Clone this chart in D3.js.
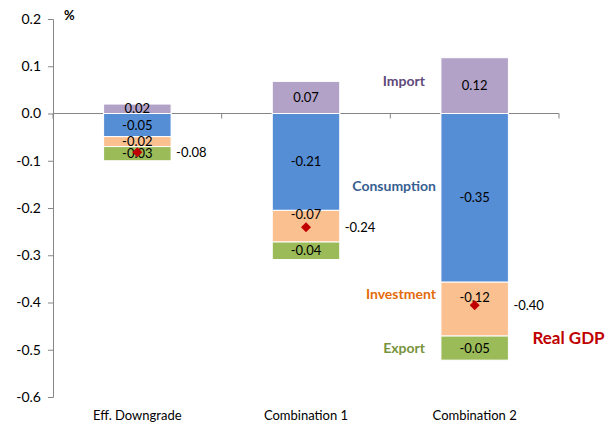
<!DOCTYPE html>
<html>
<head>
<meta charset="utf-8">
<script src="https://cdn.jsdelivr.net/npm/d3@7"></script>
<style>
  body { margin: 0; background: #fff; }
  svg text { font-family: Lato, "Open Sans", sans-serif; }
</style>
</head>
<body>
<div id="chart"></div>
<script>
const categories = ["Eff. Downgrade", "Combination 1", "Combination 2"];
const seriesNames = ["Import", "Consumption", "Investment", "Export"];
const importVals = [0.02, 0.068, 0.118];
const consumptionVals = [-0.049, -0.205, -0.357];
const investmentVals = [-0.021, -0.067, -0.114];
const exportVals = [-0.03, -0.037, -0.051];
const importLabels = ["0.02", "0.07", "0.12"];
const consumptionLabels = ["-0.05", "-0.21", "-0.35"];
const investmentLabels = ["-0.02", "-0.07", "-0.12"];
const exportLabels = ["-0.03", "-0.04", "-0.05"];
const gdpVals = [-0.082, -0.241, -0.406];
const gdpLabels = ["-0.08", "-0.24", "-0.40"];
const yTicks = [0.2, 0.1, 0.0, -0.1, -0.2, -0.3, -0.4, -0.5, -0.6];

const W = 607, H = 425;
const margin = {top: 19, right: 48, bottom: 28, left: 53};

const colors = {
  Import: "#b3a2c7", Consumption: "#558ed5",
  Investment: "#fac090", Export: "#9bbb59"
};
const textColors = {
  Import: "#5f497a", Consumption: "#376092",
  Investment: "#e46c0a", Export: "#77933c"
};

const rows = categories.map((c, i) => ({
  cat: c,
  Import: importVals[i], Consumption: consumptionVals[i],
  Investment: investmentVals[i], Export: exportVals[i]
}));
const labelsBy = {
  Import: importLabels, Consumption: consumptionLabels,
  Investment: investmentLabels, Export: exportLabels
};

const svg = d3.select("#chart").append("svg")
  .attr("width", W).attr("height", H);

const x = d3.scaleBand()
  .domain(categories)
  .range([margin.left, W - margin.right])
  .paddingInner(0.6).paddingOuter(0.3);

const y = d3.scaleLinear()
  .domain([-0.6, 0.2])
  .range([H - margin.bottom, margin.top]);

// y axis (plain hyphen for negatives, like the original)
const fmt = d3.format(".1f");
const yAxis = svg.append("g")
  .attr("transform", "translate(" + margin.left + ",0)")
  .call(d3.axisLeft(y).tickValues(yTicks).tickSize(5).tickPadding(7)
    .tickFormat(d => fmt(d).replace("\u2212", "-")));
yAxis.selectAll("path, line").attr("stroke", "#868686");
yAxis.selectAll("text").attr("font-size", 14).attr("fill", "#000")
  .attr("font-family", "Lato, sans-serif");

// zero line with category ticks
const step = x.step();
svg.append("line")
  .attr("x1", margin.left).attr("x2", W - margin.right)
  .attr("y1", y(0)).attr("y2", y(0))
  .attr("stroke", "#868686");
svg.append("g").selectAll("line")
  .data(d3.range(categories.length + 1)).enter().append("line")
  .attr("x1", i => margin.left + i * step).attr("x2", i => margin.left + i * step)
  .attr("y1", y(0)).attr("y2", y(0) + 5)
  .attr("stroke", "#868686");

// stacked bars
const stack = d3.stack().keys(seriesNames).offset(d3.stackOffsetDiverging);
const stacked = stack(rows);

const groups = svg.append("g").selectAll("g")
  .data(stacked).enter().append("g")
  .attr("fill", d => colors[d.key]);

groups.selectAll("rect")
  .data(d => d.map(p => Object.assign(p, {key: d.key}))).enter().append("rect")
  .attr("x", d => x(d.data.cat))
  .attr("width", x.bandwidth())
  .attr("y", d => y(d[1]))
  .attr("height", d => y(d[0]) - y(d[1]))
  .attr("stroke", "#fff")
  .attr("stroke-width", 1);

// value labels
stacked.forEach(s => {
  s.forEach((p, i) => {
    const top = y(p[1]), bot = y(p[0]);
    let cy = (top + bot) / 2;
    const gy = y(gdpVals[i]);
    if (bot - top > 25 && gy > top && gy < bot) cy -= 12;
    svg.append("text")
      .attr("x", x(p.data.cat) + x.bandwidth() / 2)
      .attr("y", cy)
      .attr("dy", "0.35em")
      .attr("text-anchor", "middle")
      .attr("font-size", 13)
      .attr("fill", "#000")
      .text(labelsBy[s.key][i]);
  });
});

// real GDP diamonds
svg.append("g").selectAll("path")
  .data(gdpVals).enter().append("path")
  .attr("d", d3.symbol(d3.symbolSquare, 50))
  .attr("transform", (d, i) => "translate(" + (x(categories[i]) + x.bandwidth() / 2) + "," + y(d) + ") rotate(45)")
  .attr("fill", "#c00000");

svg.append("g").selectAll("text")
  .data(gdpVals).enter().append("text")
  .attr("x", (d, i) => x(categories[i]) + x.bandwidth() + 5)
  .attr("y", d => y(d))
  .attr("dy", "0.35em")
  .attr("font-size", 13)
  .text((d, i) => gdpLabels[i]);

// category labels
svg.append("g").selectAll("text")
  .data(categories).enter().append("text")
  .attr("x", d => x(d) + x.bandwidth() / 2)
  .attr("y", 420)
  .attr("text-anchor", "middle")
  .attr("font-size", 13)
  .text(d => d);

// series name labels next to last bar
const lastCat = categories[categories.length - 1];
const lastStack = stacked.map(s => ({key: s.key, p: s[s.length - 1]}));
const labelX = x(lastCat) - 4;
lastStack.forEach(s => {
  let cy = (y(s.p[0]) + y(s.p[1])) / 2;
  if (s.key === "Import") cy = y(s.p[1]) + 23;
  if (s.key === "Consumption") cy = y(-0.2) - 22;
  if (s.key === "Investment") cy = y(s.p[1]) + 12;
  svg.append("text")
    .attr("x", s.key === "Import" || s.key === "Export" ? labelX - 12 : labelX - 1)
    .attr("y", cy)
    .attr("dy", "0.35em")
    .attr("text-anchor", "end")
    .attr("font-size", 14)
    .attr("font-weight", "bold")
    .attr("fill", textColors[s.key])
    .text(s.key);
});

svg.append("text")
  .attr("x", x(lastCat) + x.bandwidth() + 24)
  .attr("y", y(-0.47) + 2)
  .attr("dy", "0.35em")
  .attr("font-size", 17)
  .attr("font-weight", "bold")
  .attr("fill", "#c00000")
  .text("Real GDP");

svg.append("text")
  .attr("x", 64).attr("y", 20)
  .attr("font-size", 13)
  .attr("font-weight", "bold")
  .text("%");
</script>
</body>
</html>
